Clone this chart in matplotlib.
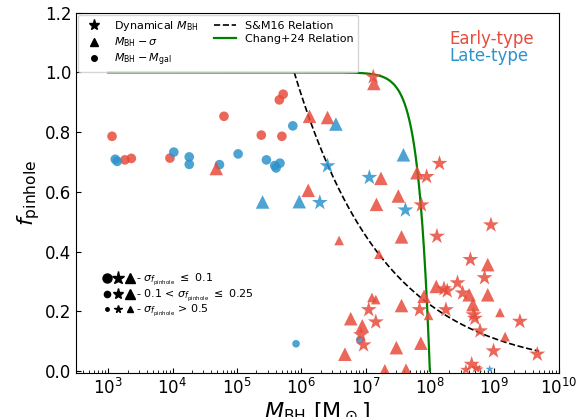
import numpy as np
import matplotlib
matplotlib.use("Agg")
import matplotlib.pyplot as plt
from matplotlib.lines import Line2D
from matplotlib.legend_handler import HandlerTuple
from matplotlib.ticker import LogLocator, NullFormatter, FixedLocator

# ---------------- data (log10 M_BH, f_pinhole, size class) ----------------
# M_BH - M_gal (circles)
circ_early_logM = [3.06, 3.26, 3.36, 3.96, 4.80, 5.38, 5.70, 5.66, 5.72]
circ_early_f = [0.786, 0.707, 0.712, 0.713, 0.853, 0.790, 0.786, 0.908, 0.927]
circ_early_sz = ['L', 'L', 'L', 'L', 'L', 'L', 'L', 'L', 'L']

circ_late_logM = [3.11, 3.14, 4.02, 4.26, 4.26, 4.73, 5.02, 5.46, 5.59, 5.61, 5.67, 5.87, 5.92, 6.91]
circ_late_f = [0.709, 0.702, 0.733, 0.717, 0.692, 0.691, 0.727, 0.707, 0.688, 0.680, 0.696, 0.821, 0.091, 0.104]
circ_late_sz = ['L', 'L', 'L', 'L', 'L', 'L', 'L', 'L', 'L', 'L', 'L', 'L', 'M', 'M']

# M_BH - sigma (triangles)
tri_early_logM = [4.68, 6.13, 6.41, 7.13, 6.11, 7.24, 7.80, 7.17, 7.51, 6.59, 7.56, 7.21,
                  8.90, 8.90, 8.10, 8.61, 8.67, 9.09, 9.17, 7.10, 7.16, 7.56, 7.91, 7.98,
                  6.77, 6.95, 6.68, 7.48, 7.86, 7.30, 7.63]
tri_early_f = [0.678, 0.853, 0.849, 0.963, 0.605, 0.645, 0.664, 0.558, 0.586, 0.437, 0.449, 0.391,
               0.356, 0.255, 0.283, 0.255, 0.222, 0.196, 0.115, 0.246, 0.239, 0.219, 0.250, 0.186,
               0.175, 0.151, 0.056, 0.078, 0.093, 0.007, 0.009]
tri_early_sz = ['L', 'L', 'L', 'L', 'L', 'L', 'L', 'L', 'L', 'M', 'L', 'M',
                'L', 'L', 'L', 'L', 'L', 'M', 'M', 'M', 'M', 'L', 'L', 'M',
                'L', 'L', 'L', 'L', 'L', 'M', 'M']

tri_late_logM = [5.40, 5.97, 6.54, 7.59]
tri_late_f = [0.566, 0.567, 0.827, 0.724]
tri_late_sz = ['L', 'L', 'L', 'L']

# Dynamical (stars)
star_early_logM = [7.12, 8.15, 7.95, 7.87, 8.95, 8.11, 8.63, 8.85, 8.22, 8.27, 8.43, 8.51,
                   8.25, 8.68, 8.70, 9.40, 8.78, 8.99, 9.67, 8.65, 8.56, 8.77, 8.72,
                   7.05, 7.84, 7.16, 6.93, 6.97]
star_early_f = [0.985, 0.695, 0.651, 0.556, 0.489, 0.451, 0.373, 0.312, 0.275, 0.268, 0.295, 0.261,
                0.205, 0.188, 0.176, 0.166, 0.134, 0.067, 0.056, 0.022, 0.004, 0.007, 0.010,
                0.205, 0.205, 0.164, 0.121, 0.087]
star_early_sz = ['L', 'L', 'L', 'L', 'L', 'L', 'L', 'L', 'L', 'L', 'L', 'L',
                 'L', 'L', 'L', 'L', 'L', 'L', 'L', 'L', 'M', 'S', 'M',
                 'L', 'L', 'L', 'L', 'L']

star_late_logM = [6.41, 7.06, 6.29, 7.62, 8.93]
star_late_f = [0.687, 0.648, 0.564, 0.539, 0.006]
star_late_sz = ['L', 'L', 'L', 'L', 'S']

# tick values
x_major_ticks = [1e3, 1e4, 1e5, 1e6, 1e7, 1e8, 1e9, 1e10]
y_ticks = [0.0, 0.2, 0.4, 0.6, 0.8, 1.0, 1.2]

# relations
sm16_M0, sm16_alpha, sm16_Mmax = 7.8e5, 0.31, 5e9
chang_Mmin, chang_Mc, chang_p = 1e3, 1e8, 2.5

# ---------------- style ----------------
RED = '#E74C3C'
BLUE = '#2E93CB'
ALPHA = 0.85
sizes = {
    'o': {'L': 48, 'M': 30, 'S': 10},
    '^': {'L': 95, 'M': 48, 'S': 20},
    '*': {'L': 145, 'M': 75, 'S': 40},
}

fig = plt.figure(figsize=(5.86, 4.17), dpi=100)
ax = fig.add_axes([0.1297, 0.1055, 0.8234, 0.864])

# relations
Ms = np.logspace(np.log10(sm16_M0), np.log10(sm16_Mmax), 300)
l_sm, = ax.plot(Ms, (Ms / sm16_M0) ** (-sm16_alpha), 'k--', lw=1.2, label='S&M16 Relation')
Mc = np.logspace(np.log10(chang_Mmin), np.log10(chang_Mc), 600)
l_ch, = ax.plot(Mc, 1 - (Mc / chang_Mc) ** chang_p, color='green', lw=1.6, label='Chang+24 Relation')


def draw(logM, f, sz, marker, color):
    s = [sizes[marker][k] for k in sz]
    ax.scatter(10 ** np.array(logM), f, s=s, marker=marker, color=color,
               alpha=ALPHA, linewidths=0, zorder=3)


draw(circ_early_logM, circ_early_f, circ_early_sz, 'o', RED)
draw(circ_late_logM, circ_late_f, circ_late_sz, 'o', BLUE)
draw(tri_early_logM, tri_early_f, tri_early_sz, '^', RED)
draw(tri_late_logM, tri_late_f, tri_late_sz, '^', BLUE)
draw(star_early_logM, star_early_f, star_early_sz, '*', RED)
draw(star_late_logM, star_late_f, star_late_sz, '*', BLUE)

ax.set_xscale('log')
ax.set_xlim(10 ** 2.5, 1e10)
ax.set_ylim(-0.007, 1.2)
ax.xaxis.set_major_locator(FixedLocator(x_major_ticks))
ax.xaxis.set_minor_locator(LogLocator(base=10, subs=np.arange(2, 10), numticks=100))
ax.xaxis.set_minor_formatter(NullFormatter())
ax.set_yticks(y_ticks)
ax.tick_params(which='both', direction='in', labelsize=12)

ax.set_xlabel(r'$M_{\rm BH}$ [M$_\odot$]', fontsize=16, labelpad=2)
ax.set_ylabel(r'$f_{\rm pinhole}$', fontsize=16, labelpad=2)

ax.text(0.773, 0.926, 'Early-type', color=RED, fontsize=12, transform=ax.transAxes, va='center')
ax.text(0.773, 0.880, 'Late-type', color=BLUE, fontsize=12, transform=ax.transAxes, va='center')

# main legend
h_star = Line2D([], [], marker='*', color='k', ls='none', ms=8)
h_tri = Line2D([], [], marker='^', color='k', ls='none', ms=6)
h_circ = Line2D([], [], marker='o', color='k', ls='none', ms=4)
leg1 = ax.legend([h_star, h_tri, h_circ, l_sm, l_ch],
                 [r'Dynamical $M_{\rm BH}$', r'$M_{\rm BH}-\sigma$', r'$M_{\rm BH}-M_{\rm gal}$',
                  'S&M16 Relation', 'Chang+24 Relation'],
                 ncol=2, loc='upper left', fontsize=8, borderaxespad=0.2,
                 labelspacing=0.2, columnspacing=1.4)
ax.add_artist(leg1)

# size legend
def trio(ms_c, ms_s, ms_t):
    return (Line2D([], [], marker='o', color='k', ls='none', ms=ms_c),
            Line2D([], [], marker='*', color='k', ls='none', ms=ms_s),
            Line2D([], [], marker='^', color='k', ls='none', ms=ms_t))

size_labels = [r'- $\sigma_{f_{\rm pinhole}}$ $\leq$ 0.1',
               r'- 0.1 < $\sigma_{f_{\rm pinhole}}$ $\leq$ 0.25',
               r'- $\sigma_{f_{\rm pinhole}}$ > 0.5']
leg2 = ax.legend([trio(6.5, 9.5, 7.5), trio(4.5, 8, 6.5), trio(2.5, 5.5, 4.5)], size_labels,
                 handler_map={tuple: HandlerTuple(ndivide=None, pad=0.0)},
                 loc='lower left', bbox_to_anchor=(0.042, 0.134), frameon=False, fontsize=8,
                 handlelength=3.0, handletextpad=0.1, labelspacing=-0.05, borderpad=0.0)

fig.savefig('out.png', dpi=100)
